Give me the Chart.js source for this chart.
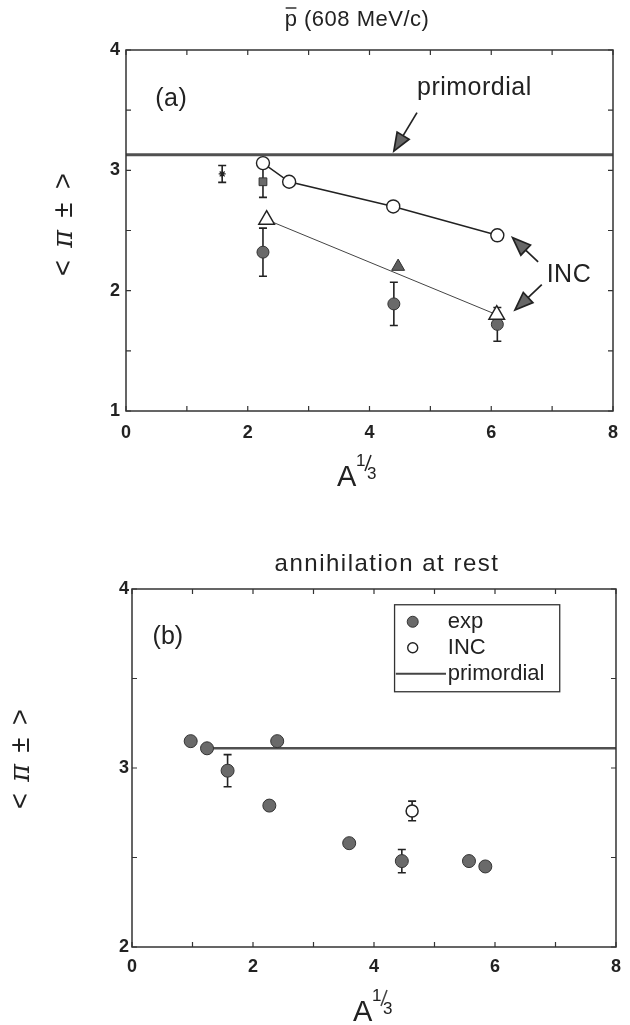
<!DOCTYPE html>
<html>
<head>
<meta charset="utf-8">
<script src="https://cdn.jsdelivr.net/npm/chart.js@4.4.1/dist/chart.umd.min.js"></script>
<style>
  html, body { margin: 0; padding: 0; background: #fff; }
  .panel { position: absolute; left: 0; width: 630px; }
  #panel-a { top: 0; height: 500px; }
  #panel-b { top: 500px; height: 525px; }
</style>
</head>
<body>
<div class="panel" id="panel-a"><canvas id="chart-a" width="630" height="500"></canvas></div>
<div class="panel" id="panel-b"><canvas id="chart-b" width="630" height="525"></canvas></div>
<script>
// ---- panel (a): pbar at 608 MeV/c ----
const aPrimX = [0, 8];
const aPrimY = [3.13, 3.13];
const aIncCircX = [2.25, 2.68, 4.39, 6.10];
const aIncCircY = [3.06, 2.905, 2.70, 2.46];
const aIncTriX = [2.31, 6.09];
const aIncTriY = [2.59, 1.80];
const aIncTriMidX = [4.47];
const aIncTriMidY = [2.20];
const aExpCircX = [2.25, 4.40, 6.10];
const aExpCircY = [2.32, 1.89, 1.72];
const aExpCircErr = [0.20, 0.18, 0.14];
const aExpSqX = [2.25];
const aExpSqY = [2.905];
const aExpSqErr = [0.13];
const aExpStarX = [1.58];
const aExpStarY = [2.97];
const aExpStarErr = [0.07];

// ---- panel (b): annihilation at rest ----
const bExpX = [0.97, 1.24, 1.58, 2.40, 2.27, 3.59, 4.46, 5.57, 5.84];
const bExpY = [3.15, 3.11, 2.985, 3.15, 2.79, 2.58, 2.48, 2.48, 2.45];
const bExpErr = [0, 0, 0.09, 0, 0, 0, 0.065, 0, 0];
const bIncX = [4.63];
const bIncY = [2.76];
const bIncErr = [0.055];
const bPrimX = [1.31, 8];
const bPrimY = [3.11, 3.11];

// tick labels
const xTickLabels = [0, 2, 4, 6, 8];
const aYTickLabels = [1, 2, 3, 4];
const bYTickLabels = [2, 3, 4];

const INK = '#222';
const MARK_FILL = '#6a6a6a';
const FONT = '"Liberation Sans", Arial, sans-serif';

const pts = (xs, ys, errs) => xs.map((x, i) => ({ x, y: ys[i], err: errs ? errs[i] : 0 }));

// vertical error bars with caps, drawn under the markers
const errorBars = {
  id: 'errorBars',
  beforeDatasetsDraw(chart) {
    const ctx = chart.ctx;
    const xs = chart.scales.x, ys = chart.scales.y;
    ctx.save();
    ctx.strokeStyle = INK;
    ctx.lineWidth = 1.6;
    chart.data.datasets.forEach((ds) => {
      ds.data.forEach((p) => {
        if (!p.err) return;
        const x = xs.getPixelForValue(p.x);
        const y1 = ys.getPixelForValue(p.y - p.err);
        const y2 = ys.getPixelForValue(p.y + p.err);
        ctx.beginPath();
        ctx.moveTo(x, y1); ctx.lineTo(x, y2);
        ctx.moveTo(x - 4, y1); ctx.lineTo(x + 4, y1);
        ctx.moveTo(x - 4, y2); ctx.lineTo(x + 4, y2);
        ctx.stroke();
      });
    });
    ctx.restore();
  }
};

// box frame with inward ticks on all four sides
const frameTicks = {
  id: 'frameTicks',
  afterDatasetsDraw(chart) {
    const ctx = chart.ctx;
    const { left, right, top, bottom } = chart.chartArea;
    ctx.save();
    ctx.strokeStyle = '#333';
    ctx.lineWidth = 1.5;
    ctx.strokeRect(left, top, right - left, bottom - top);
    ctx.lineWidth = 1.2;
    ctx.beginPath();
    chart.scales.x.ticks.forEach((t) => {
      const x = chart.scales.x.getPixelForValue(t.value);
      ctx.moveTo(x, bottom); ctx.lineTo(x, bottom - 5);
      ctx.moveTo(x, top); ctx.lineTo(x, top + 5);
    });
    chart.scales.y.ticks.forEach((t) => {
      const y = chart.scales.y.getPixelForValue(t.value);
      ctx.moveTo(left, y); ctx.lineTo(left + 5, y);
      ctx.moveTo(right, y); ctx.lineTo(right - 5, y);
    });
    ctx.stroke();
    ctx.restore();
  }
};

function arrow(ctx, x1, y1, x2, y2) {
  const ang = Math.atan2(y2 - y1, x2 - x1);
  const len = 18, half = 7;
  const bx = x2 - len * Math.cos(ang), by = y2 - len * Math.sin(ang);
  ctx.beginPath();
  ctx.moveTo(x1, y1); ctx.lineTo(bx, by);
  ctx.stroke();
  ctx.beginPath();
  ctx.moveTo(x2, y2);
  ctx.lineTo(bx + half * Math.sin(ang), by - half * Math.cos(ang));
  ctx.lineTo(bx - half * Math.sin(ang), by + half * Math.cos(ang));
  ctx.closePath();
  ctx.fill();
  ctx.stroke();
}

// A^(1/3) axis title, left edge of "A" at x, baseline at y
function drawAxisTitle(ctx, x, y) {
  ctx.font = '29px ' + FONT;
  ctx.textAlign = 'left';
  ctx.textBaseline = 'alphabetic';
  ctx.fillText('A', x, y);
  ctx.font = '17px ' + FONT;
  ctx.fillText('1', x + 19, y - 20);
  ctx.fillText('3', x + 30, y - 7);
  ctx.lineWidth = 1.5;
  ctx.beginPath();
  ctx.moveTo(x + 28, y - 15); ctx.lineTo(x + 34, y - 31);
  ctx.stroke();
}

// <pi±> written bottom-to-top, one glyph at a time
function drawYTitle(ctx, x, yBottom, gap) {
  const glyphs = ['<', 'π', '±', '>'];
  glyphs.forEach((g, i) => {
    ctx.save();
    ctx.translate(x, yBottom - i * gap);
    ctx.rotate(-Math.PI / 2);
    ctx.textAlign = 'center';
    ctx.textBaseline = 'middle';
    ctx.font = g === 'π' ? 'italic 27px "DejaVu Serif", serif' : '27px ' + FONT;
    ctx.fillText(g, 0, 0);
    ctx.restore();
  });
}

function decor(draw) {
  return {
    id: 'decor',
    afterDraw(chart) {
      const ctx = chart.ctx;
      const px = (v) => chart.scales.x.getPixelForValue(v);
      const py = (v) => chart.scales.y.getPixelForValue(v);
      ctx.save();
      ctx.fillStyle = INK;
      ctx.strokeStyle = INK;
      draw(ctx, px, py, chart);
      ctx.restore();
    }
  };
}

function baseOptions(yMin, yMax, yLabels, yWidth, xHeight, padTop, padRight, yPad, xPad) {
  return {
    responsive: false,
    animation: false,
    events: [],
    layout: { padding: { top: padTop, right: padRight, left: 0, bottom: 0 } },
    plugins: { legend: { display: false }, tooltip: { enabled: false }, title: { display: false } },
    scales: {
      x: {
        type: 'linear', min: 0, max: 8,
        grid: { display: false, drawTicks: false },
        border: { display: false },
        ticks: {
          stepSize: 1, autoSkip: false, maxRotation: 0, padding: xPad,
          color: INK, font: { family: FONT, size: 18, weight: 'bold' },
          callback: (v) => (xTickLabels.includes(v) ? String(v) : '')
        },
        afterFit: (s) => { s.height = xHeight; }
      },
      y: {
        type: 'linear', min: yMin, max: yMax,
        grid: { display: false, drawTicks: false },
        border: { display: false },
        ticks: {
          stepSize: 0.5, autoSkip: false, padding: yPad,
          color: INK, font: { family: FONT, size: 18, weight: 'bold' },
          callback: (v) => (yLabels.includes(v) ? String(v) : '')
        },
        afterFit: (s) => { s.width = yWidth; }
      }
    }
  };
}

const filledCircle = { pointStyle: 'circle', backgroundColor: MARK_FILL, borderColor: '#333', borderWidth: 1, showLine: false };

// ---- chart (a) ----
new Chart(document.getElementById('chart-a'), {
  type: 'scatter',
  data: {
    datasets: [
      { label: 'INC circles', data: pts(aIncCircX, aIncCircY), showLine: true, borderColor: INK, borderWidth: 1.5,
        pointStyle: 'circle', pointRadius: 6.5, pointBackgroundColor: '#fff', pointBorderColor: INK, pointBorderWidth: 1.4 },
      { label: 'INC triangle mid', data: pts(aIncTriMidX, aIncTriMidY), showLine: false,
        pointStyle: 'triangle', pointRadius: 7.5, pointBackgroundColor: '#5e5e5e', pointBorderColor: '#333', pointBorderWidth: 1 },
      { label: 'INC triangles', data: pts(aIncTriX, aIncTriY), showLine: true, borderColor: '#444', borderWidth: 1,
        pointStyle: 'triangle', pointRadius: 9, pointBackgroundColor: '#fff', pointBorderColor: INK, pointBorderWidth: 1.5 },
      { label: 'exp', data: pts(aExpCircX, aExpCircY, aExpCircErr), ...filledCircle, pointRadius: 6 },
      { label: 'exp square', data: pts(aExpSqX, aExpSqY, aExpSqErr), showLine: false,
        pointStyle: 'rect', pointRadius: 5.5, pointBackgroundColor: MARK_FILL, pointBorderColor: '#333', pointBorderWidth: 1 },
      { label: 'exp star', data: pts(aExpStarX, aExpStarY, aExpStarErr), showLine: false,
        pointStyle: 'star', pointRadius: 3.5, pointBorderColor: INK, pointBorderWidth: 1.2 },
      { label: 'primordial', data: pts(aPrimX, aPrimY), showLine: true, borderColor: '#505050', borderWidth: 3, pointRadius: 0 }
    ]
  },
  options: baseOptions(1, 4, aYTickLabels, 126, 89, 50, 17, 6, 11),
  plugins: [errorBars, frameTicks, decor((ctx, px, py) => {
    // title with an overline on the p
    ctx.font = '22px ' + FONT;
    ctx.letterSpacing = '0.5px';
    ctx.textAlign = 'left';
    ctx.textBaseline = 'alphabetic';
    const title = 'p (608 MeV/c)';
    const tx = 357 - ctx.measureText(title).width / 2;
    ctx.fillText(title, tx, 26);
    ctx.lineWidth = 1.4;
    ctx.beginPath();
    ctx.moveTo(tx + 1, 8); ctx.lineTo(tx + ctx.measureText('p').width - 1, 8);
    ctx.stroke();

    ctx.font = '25px ' + FONT;
    ctx.letterSpacing = '0.5px';
    ctx.textBaseline = 'middle';
    ctx.fillText('(a)', px(0.48), py(3.59));
    ctx.fillText('primordial', px(4.78), py(3.68));
    ctx.fillText('INC', px(6.91), py(2.13));
    ctx.letterSpacing = '0px';

    ctx.fillStyle = '#666';
    ctx.strokeStyle = INK;
    ctx.lineWidth = 1.7;
    arrow(ctx, px(4.78), py(3.48), px(4.40), py(3.16));
    arrow(ctx, px(6.77), py(2.24), px(6.35), py(2.44));
    arrow(ctx, px(6.83), py(2.05), px(6.39), py(1.84));

    ctx.fillStyle = INK;
    drawAxisTitle(ctx, 337, 486);
    drawYTitle(ctx, 65, 268, 29);
  })]
});

// ---- chart (b) ----
new Chart(document.getElementById('chart-b'), {
  type: 'scatter',
  data: {
    datasets: [
      { label: 'exp', data: pts(bExpX, bExpY, bExpErr), ...filledCircle, pointRadius: 6.5 },
      { label: 'INC', data: pts(bIncX, bIncY, bIncErr), showLine: false,
        pointStyle: 'circle', pointRadius: 6, pointBackgroundColor: '#fff', pointBorderColor: INK, pointBorderWidth: 1.5 },
      { label: 'primordial', data: pts(bPrimX, bPrimY), showLine: true, borderColor: '#505050', borderWidth: 2.6, pointRadius: 0 }
    ]
  },
  options: baseOptions(2, 4, bYTickLabels, 132, 78, 89, 12, 3, 9),
  plugins: [errorBars, frameTicks, decor((ctx, px, py) => {
    ctx.font = '24px ' + FONT;
    ctx.letterSpacing = '1.5px';
    ctx.textAlign = 'center';
    ctx.textBaseline = 'alphabetic';
    ctx.fillText('annihilation at rest', 387, 71);
    ctx.letterSpacing = '0px';

    ctx.textAlign = 'left';
    ctx.textBaseline = 'middle';
    ctx.font = '25px ' + FONT;
    ctx.fillText('(b)', px(0.34), py(3.73));

    // legend box
    ctx.lineWidth = 1.3;
    ctx.strokeStyle = '#333';
    ctx.strokeRect(px(4.34), py(3.912), px(7.07) - px(4.34), py(3.426) - py(3.912));
    ctx.font = '22px ' + FONT;
    const rows = [3.817, 3.672, 3.527];
    ctx.fillStyle = MARK_FILL;
    ctx.strokeStyle = '#333';
    ctx.lineWidth = 1;
    ctx.beginPath(); ctx.arc(px(4.64), py(rows[0]), 5.5, 0, Math.PI * 2); ctx.fill(); ctx.stroke();
    ctx.fillStyle = '#fff';
    ctx.strokeStyle = INK;
    ctx.lineWidth = 1.4;
    ctx.beginPath(); ctx.arc(px(4.64), py(rows[1]), 5, 0, Math.PI * 2); ctx.fill(); ctx.stroke();
    ctx.strokeStyle = '#444';
    ctx.lineWidth = 2;
    ctx.beginPath(); ctx.moveTo(px(4.36), py(rows[2])); ctx.lineTo(px(5.19), py(rows[2])); ctx.stroke();
    ctx.fillStyle = INK;
    ctx.fillText('exp', px(5.22), py(rows[0]));
    ctx.fillText('INC', px(5.22), py(rows[1]));
    ctx.fillText('primordial', px(5.22), py(rows[2]));

    drawAxisTitle(ctx, 353, 521);
    drawYTitle(ctx, 22, 301, 28);
  })]
});
</script>
</body>
</html>
